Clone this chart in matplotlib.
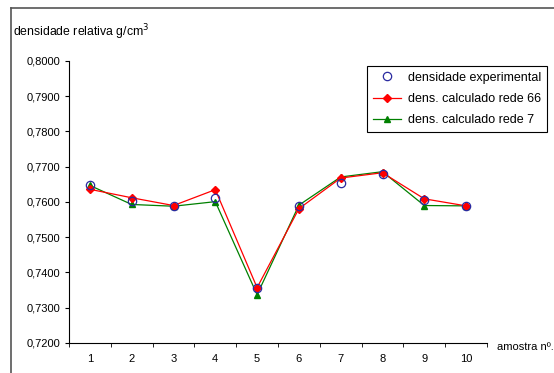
import numpy as np
import matplotlib.pyplot as plt
from matplotlib.lines import Line2D

plt.rcParams['font.family'] = ['Liberation Sans', 'DejaVu Sans']
plt.rcParams['font.size'] = 8

amostras = ['1', '2', '3', '4', '5', '6', '7', '8', '9', '10']
experimental = [0.7647, 0.7602, 0.7590, 0.7610, 0.7356, 0.7590, 0.7653, 0.7679, 0.7606, 0.7588]
rede66 = [0.7636, 0.7612, 0.7590, 0.7635, 0.7357, 0.7581, 0.7668, 0.7683, 0.7609, 0.7589]
rede7 = [0.7647, 0.7593, 0.7588, 0.7601, 0.7337, 0.7591, 0.7671, 0.7686, 0.7590, 0.7589]

W, H = 554, 373
fig = plt.figure(figsize=(W / 100, H / 100), dpi=100)
ax = fig.add_axes([69 / W, 1 - 343 / H, (487 - 69) / W, (343 - 61) / H])

x = np.arange(len(amostras))
ax.plot(x, rede66, color='red', lw=0.9, marker='D', ms=4, mfc='red', mec='red',
        label='dens. calculado rede 66', zorder=3)
ax.plot(x, rede7, color='green', lw=0.9, marker='^', ms=5, mfc='green', mec='green',
        label='dens. calculado rede 7', zorder=2)
ax.plot(x, experimental, ls='none', marker='o', ms=6, mfc='none', mec='#2a2aa0', mew=0.9,
        label='densidade experimental', zorder=4)

ax.set_xlim(-0.5, len(amostras) - 0.5)
ax.set_ylim(0.72, 0.80)
yt = np.arange(0.72, 0.8001, 0.01)
ax.set_yticks(yt)
ax.set_yticklabels([('%.4f' % v).replace('.', ',') for v in yt])
ax.set_xticks(x)
ax.set_xticklabels(amostras)
ax.set_xticks(np.arange(-0.5, len(amostras), 1), minor=True)
ax.tick_params(axis='x', which='major', length=0, pad=8)
ax.tick_params(axis='x', which='minor', length=3, direction='out')
ax.tick_params(axis='y', length=3, direction='out', pad=3)
for s in ['top', 'right']:
    ax.spines[s].set_visible(False)

fig.text(13 / W, 1 - 32 / H, r'densidade relativa g/cm$^3$', ha='left', va='center', fontsize=8.8)
fig.text(497 / W, 1 - 347 / H, 'amostra nº.', ha='left', va='center', fontsize=8)

handles, labels = ax.get_legend_handles_labels()
order = [2, 0, 1]
leg = fig.legend([handles[i] for i in order], [labels[i] for i in order],
                 loc='upper left', bbox_to_anchor=(367 / W, 1 - 66 / H), borderaxespad=0,
                 fancybox=False, edgecolor='black', framealpha=1, fontsize=9,
                 handlelength=2.3, handletextpad=0.5, borderpad=0.45, labelspacing=0.75)
leg.get_frame().set_linewidth(0.8)

fig.add_artist(Line2D([11 / W, 11 / W], [0, 1 - 8 / H], color='#555555', lw=1.2))
fig.add_artist(Line2D([11 / W, 1], [1 - 8 / H, 1 - 8 / H], color='#555555', lw=1.2))

fig.savefig('out.png', dpi=100)
